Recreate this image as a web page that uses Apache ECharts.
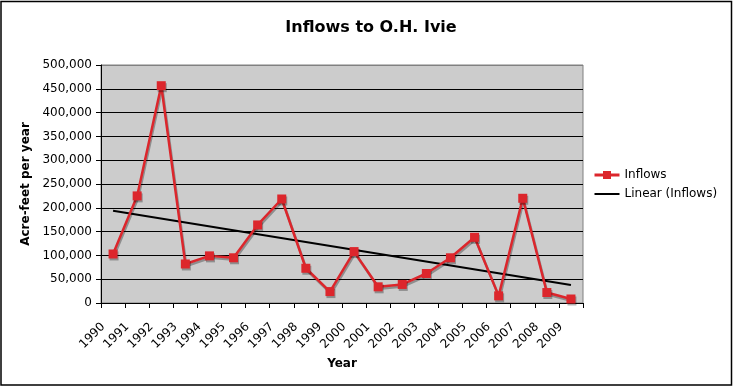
<!DOCTYPE html>
<html>
<head>
<meta charset="utf-8">
<script src="https://cdn.jsdelivr.net/npm/echarts@6/dist/echarts.min.js"></script>
<style>
html,body{margin:0;padding:0;background:#fff;}
#chart{width:733px;height:387px;}
</style>
</head>
<body>
<div id="chart"></div>
<script>
const years = ['1990','1991','1992','1993','1994','1995','1996','1997','1998','1999','2000','2001','2002','2003','2004','2005','2006','2007','2008','2009'];
const inflows = [103000,225000,456500,82000,99000,95000,164000,218500,73000,24000,108000,34000,39000,62000,95000,138000,15000,220000,22000,8400];
const trendStart = 193900;
const trendEnd = 37800;
const yTicks = [0,50000,100000,150000,200000,250000,300000,350000,400000,450000,500000];

const chart = echarts.init(document.getElementById('chart'), null, {renderer:'canvas'});
const font = 'DejaVu Sans, Verdana, sans-serif';
const gridColors = yTicks.map((v,i)=> i === yTicks.length-1 ? '#808080' : '#000000');
const red = '#dc262c';

chart.setOption({
  animation:false,
  backgroundColor:'#ffffff',
  textStyle:{fontFamily:font},
  title:{
    text:'Inflows to O.H. Ivie',
    left:366, top:15, textAlign:'center',
    textStyle:{fontFamily:font,fontWeight:'bold',fontSize:16,color:'#000'}
  },
  legend:{
    orient:'vertical', left:588, top:164, itemGap:7, itemWidth:25, itemHeight:10,
    textStyle:{fontFamily:font,fontSize:12,color:'#000'},
    data:[
      {name:'Inflows', itemStyle:{color:red,shadowColor:'rgba(0,0,0,0)'}, lineStyle:{color:red,width:3,shadowColor:'rgba(0,0,0,0)'}},
      {name:'Linear (Inflows)', icon:'path://M0,0L25,0L25,2L0,2Z', itemStyle:{color:'#000'}, itemHeight:2}
    ]
  },
  graphic:[{type:'rect',shape:{x:1,y:1.5,width:730.5,height:383.5},style:{fill:null,stroke:'#000',lineWidth:1.5},silent:true,z:100}],
  grid:{left:101,right:150,top:65,bottom:84,show:true,backgroundColor:'#cccccc',borderColor:'#808080',borderWidth:1},
  xAxis:{
    type:'category', data:years, boundaryGap:true,
    name:'Year', nameLocation:'middle', nameGap:53,
    nameTextStyle:{fontFamily:font,fontWeight:'bold',fontSize:12,color:'#000'},
    axisLine:{lineStyle:{color:'#000',width:1}},
    axisTick:{show:true,alignWithLabel:false,length:5,lineStyle:{color:'#000'}},
    axisLabel:{rotate:45,fontFamily:font,fontSize:12,color:'#000',margin:12,interval:0,padding:[0,14,0,0]},
    splitLine:{show:false}
  },
  yAxis:{
    type:'value', min:0, max:500000, interval:50000,
    name:'Acre-feet per year', nameLocation:'middle', nameGap:69, nameRotate:90,
    nameTextStyle:{fontFamily:font,fontWeight:'bold',fontSize:12,color:'#000'},
    axisLine:{show:true,lineStyle:{color:'#000',width:1}},
    axisTick:{show:true,length:5,lineStyle:{color:'#000'}},
    axisLabel:{fontFamily:font,fontSize:12,color:'#000',margin:9,
      formatter:v=>v.toLocaleString('en-US')},
    splitLine:{show:true,lineStyle:{color:gridColors,width:1}}
  },
  series:[
    {
      name:'Inflows', type:'line', data:inflows,
      symbol:'rect', symbolSize:9,
      lineStyle:{color:red,width:2.5,shadowColor:'rgba(0,0,0,0.3)',shadowOffsetX:1,shadowOffsetY:2},
      itemStyle:{color:red,shadowColor:'rgba(0,0,0,0.3)',shadowOffsetX:1,shadowOffsetY:2},
      z:3
    },
    {
      name:'Linear (Inflows)', type:'line',
      data:[[0,trendStart],[years.length-1,trendEnd]],
      symbol:'none', showSymbol:false,
      lineStyle:{color:'#000',width:2},
      itemStyle:{color:'#000'},
      z:2
    }
  ]
});
</script>
</body>
</html>
